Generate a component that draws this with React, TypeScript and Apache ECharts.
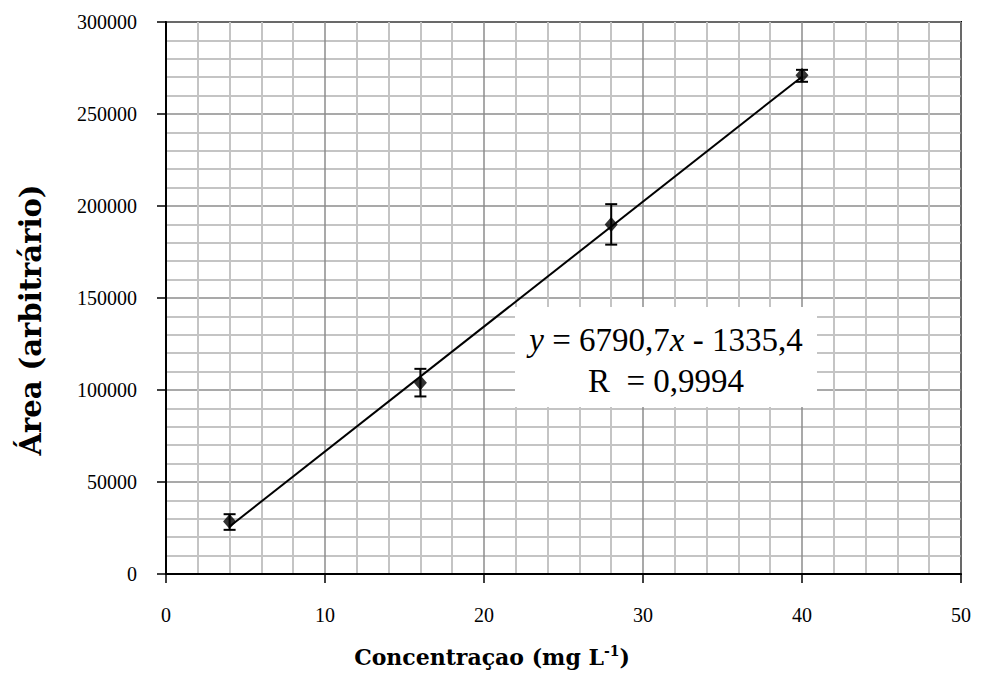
import React, { useEffect, useRef } from "react";
import * as echarts from "echarts";

const concentrations = [4, 16, 28, 40];
const areas = [28500, 104000, 190000, 271000];
const errLow = [24000, 96500, 179000, 267500];
const errHigh = [32500, 111500, 201000, 274000];
const slope = 6790.7;
const intercept = -1335.4;
const xTicks = [0, 10, 20, 30, 40, 50];
const yTicks = [0, 50000, 100000, 150000, 200000, 250000, 300000];
const xTitle = "Concentraçao (mg L";
const xTitleSup = "-1";
const yTitle = "Área (arbitrário)";

const FONT = "'Liberation Serif', 'DejaVu Serif', serif";
const TITLE_FONT = "'DejaVu Serif', 'Liberation Serif', serif";

export default function App() {
  const ref = useRef<HTMLDivElement>(null);
  useEffect(() => {
    if (!ref.current) return;
    const chart = echarts.init(ref.current, undefined, { renderer: "svg" });
    const xs = [concentrations[0], concentrations[concentrations.length - 1]];
    const fitLine = xs.map((x) => [x, slope * x + intercept]);
    chart.setOption({
      animation: false,
      backgroundColor: "#ffffff",
      grid: {
        left: 166,
        top: 22,
        right: 21,
        bottom: 103,
        show: true,
        borderColor: "#000",
        borderWidth: 2,
        backgroundColor: "transparent",
      },
      xAxis: {
        type: "value",
        min: xTicks[0],
        max: xTicks[xTicks.length - 1],
        interval: 10,
        axisLine: { show: true, lineStyle: { color: "#000", width: 2 } },
        axisTick: { show: true, length: 9, lineStyle: { color: "#000", width: 1.5 } },
        axisLabel: { fontFamily: FONT, fontSize: 20, color: "#000", margin: 31 },
        splitLine: { show: true, lineStyle: { color: "#8c8c8c", width: 1.5 } },
        minorTick: { show: false, splitNumber: 5 },
        minorSplitLine: { show: true, lineStyle: { color: "#c4c4c4", width: 2 } },
      },
      yAxis: {
        type: "value",
        min: yTicks[0],
        max: yTicks[yTicks.length - 1],
        interval: 50000,
        axisLine: { show: true, lineStyle: { color: "#000", width: 2 } },
        axisTick: { show: true, length: 9, lineStyle: { color: "#000", width: 1.5 } },
        axisLabel: { fontFamily: FONT, fontSize: 20, color: "#000", margin: 29, formatter: (v: number) => String(v) },
        splitLine: { show: true, lineStyle: { color: "#8c8c8c", width: 1.5 } },
        minorTick: { show: false, splitNumber: 5 },
        minorSplitLine: { show: true, lineStyle: { color: "#c4c4c4", width: 2 } },
      },
      series: [
        {
          type: "line",
          data: fitLine,
          symbol: "none",
          lineStyle: { color: "#000", width: 2 },
          z: 3,
        },
        {
          type: "custom",
          data: concentrations.map((c, i) => [c, errLow[i], errHigh[i]]),
          renderItem: (params: any, api: any) => {
            const x = api.value(0);
            const lo = api.coord([x, api.value(1)]);
            const hi = api.coord([x, api.value(2)]);
            const half = 6;
            const style = { stroke: "#000", lineWidth: 2 };
            return {
              type: "group",
              children: [
                { type: "line", shape: { x1: lo[0], y1: lo[1], x2: hi[0], y2: hi[1] }, style },
                { type: "line", shape: { x1: lo[0] - half, y1: lo[1], x2: lo[0] + half, y2: lo[1] }, style },
                { type: "line", shape: { x1: hi[0] - half, y1: hi[1], x2: hi[0] + half, y2: hi[1] }, style },
              ],
            };
          },
          z: 4,
        },
        {
          type: "scatter",
          data: concentrations.map((c, i) => [c, areas[i]]),
          symbol: "diamond",
          symbolSize: [13, 15],
          itemStyle: { color: "#000" },
          z: 5,
        },
      ],
      graphic: [
        {
          type: "rect",
          left: 515,
          top: 307,
          shape: { width: 302, height: 100 },
          style: { fill: "#fff" },
          z: 100,
        },
        {
          type: "text",
          x: 666,
          y: 340,
          z: 101,
          style: {
            text: "{i|y} = 6790,7{i|x} - 1335,4",
            align: "center",
            verticalAlign: "middle",
            fontFamily: FONT,
            fontSize: 33,
            fill: "#000",
            rich: { i: { fontFamily: FONT, fontStyle: "italic", fontSize: 33, fill: "#000" } },
          },
        },
        {
          type: "text",
          x: 666,
          y: 381,
          z: 101,
          style: {
            text: "R  = 0,9994",
            align: "center",
            verticalAlign: "middle",
            fontFamily: FONT,
            fontSize: 33,
            fill: "#000",
          },
        },
        {
          type: "text",
          x: 492,
          y: 657,
          z: 101,
          style: {
            text: xTitle + "{sup|" + xTitleSup + "})",
            align: "center",
            verticalAlign: "middle",
            fontFamily: TITLE_FONT,
            fontSize: 22,
            fontWeight: "bold",
            fill: "#000",
            rich: {
              sup: { fontFamily: TITLE_FONT, fontSize: 14, fontWeight: "bold", verticalAlign: "top", padding: [0, 0, 12, 0], fill: "#000" },
            },
          },
        },
        {
          type: "text",
          x: 31,
          y: 320,
          rotation: Math.PI / 2,
          z: 101,
          style: {
            text: yTitle,
            align: "center",
            verticalAlign: "middle",
            fontFamily: TITLE_FONT,
            fontSize: 29,
            fontWeight: "bold",
            fill: "#000",
          },
        },
      ],
    });
    return () => chart.dispose();
  }, []);
  return <div ref={ref} style={{ width: 982, height: 677, position: "absolute", left: 0, top: 0 }} />;
}
